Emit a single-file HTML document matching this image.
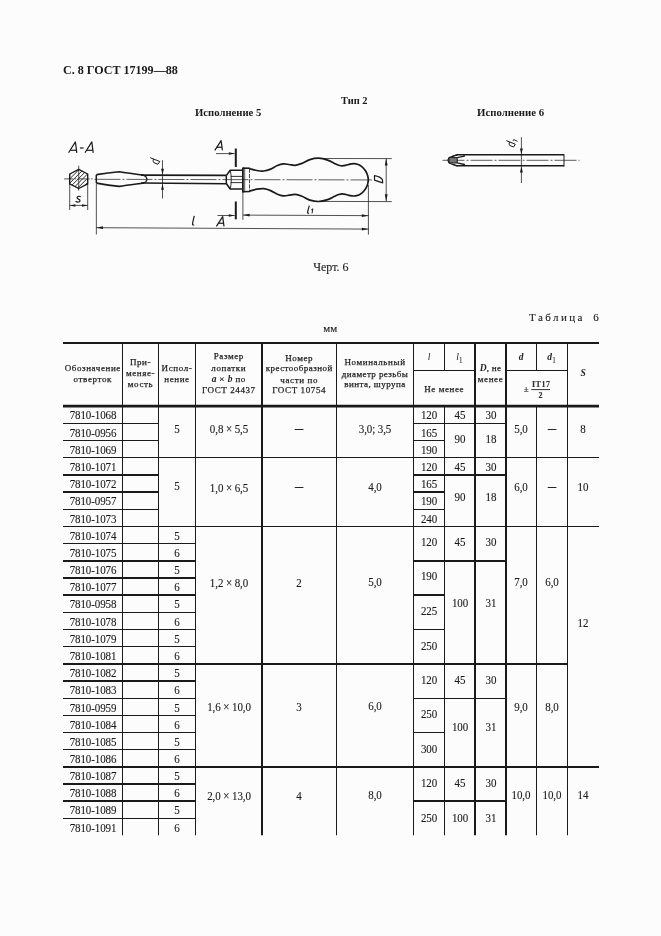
<!DOCTYPE html>
<html lang="ru"><head><meta charset="utf-8"><title>ГОСТ 17199-88 С. 8</title>
<style>
html,body{margin:0;padding:0;background:#fcfcfc;}
body{width:661px;height:936px;position:relative;overflow:hidden;font-family:"Liberation Serif",serif;color:#1a1a1a;}
.t{position:absolute;white-space:nowrap;text-align:center;width:120px;margin-left:-60px;}
.d{font-size:12.2px;line-height:14px;height:14px;margin-top:-6.4px;letter-spacing:-0.1px;transform:scaleX(0.9);-webkit-text-stroke:0.12px #1a1a1a;}
.h{font-size:9px;line-height:12px;height:12px;margin-top:-6px;letter-spacing:0.6px;color:#222;-webkit-text-stroke:0.25px #222;}
.h i{font-size:9.5px;letter-spacing:0;font-weight:bold;-webkit-text-stroke:0}
.h sub{font-size:8px;vertical-align:-2.5px;line-height:0;-webkit-text-stroke:0}
.b{position:absolute;white-space:nowrap;font-weight:bold;}
.r{position:absolute;white-space:nowrap;-webkit-text-stroke:0.12px #1a1a1a;}
svg{position:absolute;left:0;top:0;}
</style></head><body>
<div id="page" style="position:absolute;left:0;top:0;width:661px;height:936px;will-change:transform">

<div class="b" id="hdr" style="left:62.6px;top:61.7px;font-size:13.2px;line-height:16px;transform-origin:0 0;transform:scaleX(0.915)">С. 8 ГОСТ 17199—88</div>
<div class="b" id="tip" style="left:340.8px;top:93.7px;font-size:11.2px;line-height:13px;transform-origin:0 0;transform:scaleX(0.93)">Тип 2</div>
<div class="b" id="i5" style="left:194.6px;top:106.2px;font-size:11.2px;line-height:13px;transform-origin:0 0;transform:scaleX(0.955)">Исполнение 5</div>
<div class="b" id="i6" style="left:476.6px;top:106.2px;font-size:11.2px;line-height:13px;transform-origin:0 0;transform:scaleX(0.965)">Исполнение 6</div>
<div class="r" id="chert" style="left:313.2px;top:261.3px;font-size:12px;line-height:13px">Черт. 6</div>
<div class="r" id="tabl" style="left:529px;top:311px;font-size:11px;line-height:13px;letter-spacing:2.45px;word-spacing:3px">Таблица 6</div>
<div class="r" id="mm" style="left:323.2px;top:322.4px;font-size:11px;line-height:13px">мм</div>
<div class="t d" style="left:92.8px;top:414.8px">7810-1068</div>
<div class="t d" style="left:92.8px;top:432.0px">7810-0956</div>
<div class="t d" style="left:92.8px;top:449.0px">7810-1069</div>
<div class="t d" style="left:92.8px;top:466.2px">7810-1071</div>
<div class="t d" style="left:92.8px;top:483.5px">7810-1072</div>
<div class="t d" style="left:92.8px;top:500.8px">7810-0957</div>
<div class="t d" style="left:92.8px;top:518.0px">7810-1073</div>
<div class="t d" style="left:92.8px;top:535.0px">7810-1074</div>
<div class="t d" style="left:92.8px;top:552.2px">7810-1075</div>
<div class="t d" style="left:92.8px;top:569.5px">7810-1076</div>
<div class="t d" style="left:92.8px;top:586.5px">7810-1077</div>
<div class="t d" style="left:92.8px;top:603.8px">7810-0958</div>
<div class="t d" style="left:92.8px;top:621.0px">7810-1078</div>
<div class="t d" style="left:92.8px;top:638.0px">7810-1079</div>
<div class="t d" style="left:92.8px;top:655.2px">7810-1081</div>
<div class="t d" style="left:92.8px;top:672.5px">7810-1082</div>
<div class="t d" style="left:92.8px;top:689.8px">7810-1083</div>
<div class="t d" style="left:92.8px;top:707.0px">7810-0959</div>
<div class="t d" style="left:92.8px;top:724.0px">7810-1084</div>
<div class="t d" style="left:92.8px;top:741.0px">7810-1085</div>
<div class="t d" style="left:92.8px;top:758.2px">7810-1086</div>
<div class="t d" style="left:92.8px;top:775.5px">7810-1087</div>
<div class="t d" style="left:92.8px;top:792.5px">7810-1088</div>
<div class="t d" style="left:92.8px;top:809.8px">7810-1089</div>
<div class="t d" style="left:92.8px;top:826.9px">7810-1091</div>
<div class="t d" style="left:177.0px;top:428.1px">5</div>
<div class="t d" style="left:177.0px;top:485.7px">5</div>
<div class="t d" style="left:177.0px;top:535.0px">5</div>
<div class="t d" style="left:177.0px;top:552.2px">6</div>
<div class="t d" style="left:177.0px;top:569.5px">5</div>
<div class="t d" style="left:177.0px;top:586.5px">6</div>
<div class="t d" style="left:177.0px;top:603.8px">5</div>
<div class="t d" style="left:177.0px;top:621.0px">6</div>
<div class="t d" style="left:177.0px;top:638.0px">5</div>
<div class="t d" style="left:177.0px;top:655.2px">6</div>
<div class="t d" style="left:177.0px;top:672.5px">5</div>
<div class="t d" style="left:177.0px;top:689.8px">6</div>
<div class="t d" style="left:177.0px;top:707.0px">5</div>
<div class="t d" style="left:177.0px;top:724.0px">6</div>
<div class="t d" style="left:177.0px;top:741.0px">5</div>
<div class="t d" style="left:177.0px;top:758.2px">6</div>
<div class="t d" style="left:177.0px;top:775.5px">5</div>
<div class="t d" style="left:177.0px;top:792.5px">6</div>
<div class="t d" style="left:177.0px;top:809.8px">5</div>
<div class="t d" style="left:177.0px;top:826.9px">6</div>
<div class="t d" style="left:228.8px;top:428.7px">0,8 × 5,5</div>
<div class="t d" style="left:299.2px;top:428.8px"><span style="font-size:9px;position:relative;top:-2.3px;-webkit-text-stroke:0.5px #1a1a1a">—</span></div>
<div class="t d" style="left:375.0px;top:428.0px">3,0; 3,5</div>
<div class="t d" style="left:521.2px;top:428.1px">5,0</div>
<div class="t d" style="left:552.0px;top:428.7px"><span style="font-size:9px;position:relative;top:-2.3px;-webkit-text-stroke:0.5px #1a1a1a">—</span></div>
<div class="t d" style="left:228.8px;top:486.9px">1,0 × 6,5</div>
<div class="t d" style="left:299.2px;top:487.0px"><span style="font-size:9px;position:relative;top:-2.3px;-webkit-text-stroke:0.5px #1a1a1a">—</span></div>
<div class="t d" style="left:375.0px;top:486.2px">4,0</div>
<div class="t d" style="left:521.2px;top:486.3px">6,0</div>
<div class="t d" style="left:552.0px;top:486.9px"><span style="font-size:9px;position:relative;top:-2.3px;-webkit-text-stroke:0.5px #1a1a1a">—</span></div>
<div class="t d" style="left:228.8px;top:582.3px">1,2 × 8,0</div>
<div class="t d" style="left:299.2px;top:581.9px">2</div>
<div class="t d" style="left:375.0px;top:581.6px">5,0</div>
<div class="t d" style="left:521.2px;top:581.7px">7,0</div>
<div class="t d" style="left:552.0px;top:581.7px">6,0</div>
<div class="t d" style="left:228.8px;top:706.5px">1,6 × 10,0</div>
<div class="t d" style="left:299.2px;top:706.1px">3</div>
<div class="t d" style="left:375.0px;top:705.8px">6,0</div>
<div class="t d" style="left:521.2px;top:705.9px">9,0</div>
<div class="t d" style="left:552.0px;top:705.9px">8,0</div>
<div class="t d" style="left:228.8px;top:795.3px">2,0 × 13,0</div>
<div class="t d" style="left:299.2px;top:794.9px">4</div>
<div class="t d" style="left:375.0px;top:794.6px">8,0</div>
<div class="t d" style="left:521.2px;top:794.7px">10,0</div>
<div class="t d" style="left:552.0px;top:794.7px">10,0</div>
<div class="t d" style="left:583.2px;top:428.1px">8</div>
<div class="t d" style="left:583.2px;top:486.1px">10</div>
<div class="t d" style="left:583.2px;top:621.9px">12</div>
<div class="t d" style="left:583.2px;top:794.8px">14</div>
<div class="t d" style="left:429.0px;top:414.8px">120</div>
<div class="t d" style="left:429.0px;top:432.0px">165</div>
<div class="t d" style="left:429.0px;top:449.0px">190</div>
<div class="t d" style="left:429.0px;top:466.2px">120</div>
<div class="t d" style="left:429.0px;top:483.5px">165</div>
<div class="t d" style="left:429.0px;top:500.8px">190</div>
<div class="t d" style="left:429.0px;top:518.0px">240</div>
<div class="t d" style="left:429.0px;top:541.5px">120</div>
<div class="t d" style="left:429.0px;top:575.4px">190</div>
<div class="t d" style="left:429.0px;top:610.5px">225</div>
<div class="t d" style="left:429.0px;top:645.0px">250</div>
<div class="t d" style="left:429.0px;top:678.9px">120</div>
<div class="t d" style="left:429.0px;top:713.1px">250</div>
<div class="t d" style="left:429.0px;top:747.9px">300</div>
<div class="t d" style="left:429.0px;top:782.1px">120</div>
<div class="t d" style="left:429.0px;top:816.9px">250</div>
<div class="t d" style="left:459.8px;top:414.8px">45</div>
<div class="t d" style="left:490.5px;top:414.8px">30</div>
<div class="t d" style="left:459.8px;top:438.7px">90</div>
<div class="t d" style="left:490.5px;top:438.7px">18</div>
<div class="t d" style="left:459.8px;top:466.2px">45</div>
<div class="t d" style="left:490.5px;top:466.2px">30</div>
<div class="t d" style="left:459.8px;top:496.7px">90</div>
<div class="t d" style="left:490.5px;top:496.7px">18</div>
<div class="t d" style="left:459.8px;top:541.6px">45</div>
<div class="t d" style="left:490.5px;top:541.6px">30</div>
<div class="t d" style="left:459.8px;top:602.7px">100</div>
<div class="t d" style="left:490.5px;top:602.7px">31</div>
<div class="t d" style="left:459.8px;top:679.0px">45</div>
<div class="t d" style="left:490.5px;top:679.0px">30</div>
<div class="t d" style="left:459.8px;top:726.8px">100</div>
<div class="t d" style="left:490.5px;top:726.8px">31</div>
<div class="t d" style="left:459.8px;top:782.1px">45</div>
<div class="t d" style="left:490.5px;top:782.1px">30</div>
<div class="t d" style="left:459.8px;top:816.9px">100</div>
<div class="t d" style="left:490.5px;top:816.9px">31</div>
<div class="t h" style="left:92.8px;top:368.2px">Обозначение</div>
<div class="t h" style="left:92.8px;top:379.4px">отверток</div>
<div class="t h" style="left:140.5px;top:362.0px">При-</div>
<div class="t h" style="left:140.5px;top:373.2px">меняе-</div>
<div class="t h" style="left:140.5px;top:384.2px">мость</div>
<div class="t h" style="left:177.0px;top:368.2px">Испол-</div>
<div class="t h" style="left:177.0px;top:379.4px">нение</div>
<div class="t h" style="left:228.8px;top:356.2px">Размер</div>
<div class="t h" style="left:228.8px;top:367.5px">лопатки</div>
<div class="t h" style="left:228.8px;top:379.0px"><i>a</i> × <i>b</i> по</div>
<div class="t h" style="left:228.8px;top:389.6px">ГОСТ 24437</div>
<div class="t h" style="left:299.2px;top:357.5px">Номер</div>
<div class="t h" style="left:299.2px;top:368.4px;letter-spacing:0.45px">крестообразной</div>
<div class="t h" style="left:299.2px;top:379.5px">части по</div>
<div class="t h" style="left:299.2px;top:390.0px">ГОСТ 10754</div>
<div class="t h" style="left:375.0px;top:361.7px">Номинальный</div>
<div class="t h" style="left:375.0px;top:373.5px;letter-spacing:0.4px">диаметр резьбы</div>
<div class="t h" style="left:375.0px;top:384.2px;letter-spacing:0.45px">винта, шурупа</div>
<div class="t h" style="left:429.0px;top:357.3px"><i style="font-weight:normal">l</i></div>
<div class="t h" style="left:459.8px;top:357.3px"><i style="font-weight:normal">l</i><sub>1</sub></div>
<div class="t h" style="left:444.2px;top:388.7px">Не менее</div>
<div class="t h" style="left:490.5px;top:368.2px;letter-spacing:0.3px"><i>D</i>, не</div>
<div class="t h" style="left:490.5px;top:379.4px">менее</div>
<div class="t h" style="left:521.2px;top:357.3px"><i>d</i></div>
<div class="t h" style="left:552.0px;top:357.3px"><i>d</i><sub>1</sub></div>
<div class="t h" style="left:583.2px;top:373.0px"><i>S</i></div>
<div class="r" style="left:523.7px;top:383px;font-size:9px;line-height:12px;font-weight:bold;color:#333">±</div>
<div class="r" style="left:532px;top:379.2px;font-size:8px;line-height:11px;font-weight:bold;letter-spacing:0.5px;color:#333">IT17</div>
<div class="r" style="left:538.5px;top:389.6px;font-size:8px;line-height:11px;font-weight:bold;color:#333">2</div>
<svg width="661" height="936" viewBox="0 0 661 936">
<g stroke="#1a1a1a" fill="none" shape-rendering="auto">
<line x1="63.00" y1="343.00" x2="599.00" y2="343.00" stroke-width="2.20"/>
<line x1="63.00" y1="406.20" x2="599.00" y2="406.20" stroke-width="2.80"/>
<line x1="122.50" y1="343.00" x2="122.50" y2="835.30" stroke-width="1.00"/>
<line x1="158.50" y1="343.00" x2="158.50" y2="835.30" stroke-width="1.00"/>
<line x1="195.50" y1="343.00" x2="195.50" y2="835.30" stroke-width="1.00"/>
<line x1="262.00" y1="343.00" x2="262.00" y2="835.30" stroke-width="2.00"/>
<line x1="336.50" y1="343.00" x2="336.50" y2="835.30" stroke-width="1.00"/>
<line x1="413.50" y1="343.00" x2="413.50" y2="835.30" stroke-width="1.00"/>
<line x1="444.50" y1="343.00" x2="444.50" y2="370.50" stroke-width="1.00"/>
<line x1="444.50" y1="406.20" x2="444.50" y2="835.30" stroke-width="1.00"/>
<line x1="475.00" y1="343.00" x2="475.00" y2="835.30" stroke-width="2.00"/>
<line x1="506.00" y1="343.00" x2="506.00" y2="835.30" stroke-width="2.00"/>
<line x1="536.50" y1="343.00" x2="536.50" y2="370.50" stroke-width="1.00"/>
<line x1="536.50" y1="406.20" x2="536.50" y2="835.30" stroke-width="1.00"/>
<line x1="567.50" y1="343.00" x2="567.50" y2="835.30" stroke-width="1.00"/>
<line x1="413.50" y1="370.50" x2="475.00" y2="370.50" stroke-width="1.00"/>
<line x1="506.00" y1="370.50" x2="567.50" y2="370.50" stroke-width="1.00"/>
<line x1="63.00" y1="423.50" x2="158.50" y2="423.50" stroke-width="1.00"/>
<line x1="63.00" y1="440.50" x2="158.50" y2="440.50" stroke-width="1.00"/>
<line x1="63.00" y1="457.50" x2="599.00" y2="457.50" stroke-width="1.00"/>
<line x1="63.00" y1="475.00" x2="158.50" y2="475.00" stroke-width="2.00"/>
<line x1="63.00" y1="492.00" x2="158.50" y2="492.00" stroke-width="2.00"/>
<line x1="63.00" y1="509.50" x2="158.50" y2="509.50" stroke-width="1.00"/>
<line x1="63.00" y1="526.50" x2="599.00" y2="526.50" stroke-width="1.00"/>
<line x1="63.00" y1="543.50" x2="195.50" y2="543.50" stroke-width="1.00"/>
<line x1="63.00" y1="561.00" x2="195.50" y2="561.00" stroke-width="2.00"/>
<line x1="63.00" y1="578.00" x2="195.50" y2="578.00" stroke-width="2.00"/>
<line x1="63.00" y1="595.00" x2="195.50" y2="595.00" stroke-width="2.00"/>
<line x1="63.00" y1="612.50" x2="195.50" y2="612.50" stroke-width="1.00"/>
<line x1="63.00" y1="629.50" x2="195.50" y2="629.50" stroke-width="1.00"/>
<line x1="63.00" y1="646.50" x2="195.50" y2="646.50" stroke-width="1.00"/>
<line x1="63.00" y1="664.00" x2="567.50" y2="664.00" stroke-width="2.00"/>
<line x1="63.00" y1="681.00" x2="195.50" y2="681.00" stroke-width="2.00"/>
<line x1="63.00" y1="698.50" x2="195.50" y2="698.50" stroke-width="1.00"/>
<line x1="63.00" y1="715.50" x2="195.50" y2="715.50" stroke-width="1.00"/>
<line x1="63.00" y1="732.50" x2="195.50" y2="732.50" stroke-width="1.00"/>
<line x1="63.00" y1="749.50" x2="195.50" y2="749.50" stroke-width="1.00"/>
<line x1="63.00" y1="767.00" x2="599.00" y2="767.00" stroke-width="2.00"/>
<line x1="63.00" y1="784.00" x2="195.50" y2="784.00" stroke-width="2.00"/>
<line x1="63.00" y1="801.00" x2="195.50" y2="801.00" stroke-width="2.00"/>
<line x1="63.00" y1="818.50" x2="195.50" y2="818.50" stroke-width="1.00"/>
<line x1="413.50" y1="423.50" x2="444.50" y2="423.50" stroke-width="1.00"/>
<line x1="413.50" y1="440.50" x2="444.50" y2="440.50" stroke-width="1.00"/>
<line x1="413.50" y1="475.00" x2="444.50" y2="475.00" stroke-width="2.00"/>
<line x1="413.50" y1="492.00" x2="444.50" y2="492.00" stroke-width="2.00"/>
<line x1="413.50" y1="509.50" x2="444.50" y2="509.50" stroke-width="1.00"/>
<line x1="413.50" y1="561.00" x2="444.50" y2="561.00" stroke-width="2.00"/>
<line x1="413.50" y1="595.00" x2="444.50" y2="595.00" stroke-width="2.00"/>
<line x1="413.50" y1="629.50" x2="444.50" y2="629.50" stroke-width="1.00"/>
<line x1="413.50" y1="698.50" x2="444.50" y2="698.50" stroke-width="1.00"/>
<line x1="413.50" y1="732.50" x2="444.50" y2="732.50" stroke-width="1.00"/>
<line x1="413.50" y1="801.00" x2="444.50" y2="801.00" stroke-width="2.00"/>
<line x1="444.50" y1="423.50" x2="506.00" y2="423.50" stroke-width="1.00"/>
<line x1="444.50" y1="475.00" x2="506.00" y2="475.00" stroke-width="2.00"/>
<line x1="444.50" y1="561.00" x2="506.00" y2="561.00" stroke-width="2.00"/>
<line x1="444.50" y1="698.50" x2="506.00" y2="698.50" stroke-width="1.00"/>
<line x1="444.50" y1="801.00" x2="506.00" y2="801.00" stroke-width="2.00"/>
<line x1="531.3" y1="389.6" x2="550" y2="389.6" stroke-width="0.9"/>
</g>
<g stroke="#1a1a1a" fill="none" stroke-linecap="butt" stroke-linejoin="round">
<clipPath id="hc"><polygon points="78.7,169.4 87.7,174.0 87.7,183.9 78.7,188.5 69.7,183.9 69.7,174.0"/></clipPath>
<g clip-path="url(#hc)" stroke-width="0.9">
<line x1="30.8" y1="192" x2="56.8" y2="166"/>
<line x1="35.1" y1="192" x2="61.1" y2="166"/>
<line x1="39.4" y1="192" x2="65.4" y2="166"/>
<line x1="43.7" y1="192" x2="69.7" y2="166"/>
<line x1="48.0" y1="192" x2="74.0" y2="166"/>
<line x1="52.3" y1="192" x2="78.3" y2="166"/>
<line x1="56.6" y1="192" x2="82.6" y2="166"/>
<line x1="60.9" y1="192" x2="86.9" y2="166"/>
<line x1="65.2" y1="192" x2="91.2" y2="166"/>
<line x1="69.5" y1="192" x2="95.5" y2="166"/>
<line x1="73.8" y1="192" x2="99.8" y2="166"/>
<line x1="78.1" y1="192" x2="104.1" y2="166"/>
<line x1="82.4" y1="192" x2="108.4" y2="166"/>
<line x1="86.7" y1="192" x2="112.7" y2="166"/>
</g>
<polygon points="78.7,169.4 87.7,174.0 87.7,183.9 78.7,188.5 69.7,183.9 69.7,174.0" stroke-width="1.4" fill="none"/>
<line x1="64.20" y1="178.90" x2="92.60" y2="178.90" stroke-width="0.75" stroke-dasharray="9 1.5 1.5 1.5"/>
<line x1="78.70" y1="165.70" x2="78.70" y2="190.60" stroke-width="0.75" />
<line x1="69.70" y1="184.00" x2="69.70" y2="210.00" stroke-width="0.75" />
<line x1="87.70" y1="184.00" x2="87.70" y2="210.00" stroke-width="0.75" />
<line x1="69.70" y1="205.40" x2="87.70" y2="205.40" stroke-width="0.75" />
<path d="M69.90 205.40L75.40 204.15L75.40 206.65Z" fill="#1a1a1a" stroke="none"/>
<path d="M87.50 205.40L82.00 206.65L82.00 204.15Z" fill="#1a1a1a" stroke="none"/>
<path d="M80.8 196.9C79.6 195.8 77.0 196.1 77.0 197.7C77.0 199.3 80.3 199.0 80.0 200.8C79.7 202.3 77 202.4 75.6 201.3" stroke-width="1.20" fill="none" />
<path d="M68.60 152.80L75.40 141.90L76.80 152.80" stroke-width="1.20" fill="none" />
<path d="M70.56 150.29L76.48 150.29" stroke-width="1.20" fill="none" />
<path d="M85.00 152.80L91.80 141.90L93.20 152.80" stroke-width="1.20" fill="none" />
<path d="M86.96 150.29L92.88 150.29" stroke-width="1.20" fill="none" />
<line x1="80.00" y1="148.00" x2="83.60" y2="148.00" stroke-width="1.20" />
<path d="M96.7 174.6L96.3 175.6 L96.3 182.1 L96.7 183.1" stroke-width="1.50" fill="none" />
<path d="M96.5 174.6C104 173.4 112 172.4 119.2 171.8C128 172.9 136 174.2 144.0 175.3" stroke-width="1.60" fill="none" />
<path d="M96.5 183.1C104 184.4 112 185.6 119.2 186.4C128 185.3 136 184.1 144.0 183.0" stroke-width="1.60" fill="none" />
<path d="M143.6 175.4C148.0 177.0 148.0 181.4 143.6 183.0" stroke-width="1.20" fill="none" />
<line x1="141.00" y1="175.10" x2="226.30" y2="175.40" stroke-width="1.60" />
<line x1="141.00" y1="182.95" x2="226.30" y2="183.70" stroke-width="1.60" />
<line x1="94.50" y1="179.30" x2="372.00" y2="179.95" stroke-width="0.70" stroke-dasharray="26 2 2 2"/>
<line x1="162.50" y1="160.30" x2="162.50" y2="198.50" stroke-width="0.75" />
<path d="M162.50 174.60L161.05 168.80L163.95 168.80Z" fill="#1a1a1a" stroke="none"/>
<path d="M162.50 184.00L163.95 189.80L161.05 189.80Z" fill="#1a1a1a" stroke="none"/>
<path d="M150.2 157.7L159.8 161.5L157.9 164.3L153.8 162.6C153.0 161.6 153.0 160.4 153.5 159.1" stroke-width="1.00" fill="none" />
<path d="M226.3 175.4L226.3 183.7" stroke-width="1.50" fill="none" />
<path d="M226.3 175.6L230.2 170.3L242.7 170.3" stroke-width="1.60" fill="none" />
<path d="M226.3 183.5L230.2 189.0L242.7 189.0" stroke-width="1.60" fill="none" />
<path d="M230.2 170.3C231.6 175 231.6 184.4 230.2 189.0" stroke-width="0.90" fill="none" />
<line x1="230.80" y1="176.40" x2="242.70" y2="176.40" stroke-width="0.90" />
<line x1="230.80" y1="182.60" x2="242.70" y2="182.60" stroke-width="0.90" />
<path d="M242.9 168.1L250.2 168.3M242.9 191.8L250.2 191.5" stroke-width="1.60" fill="none" />
<line x1="242.90" y1="167.40" x2="242.90" y2="192.40" stroke-width="1.80" />
<line x1="244.70" y1="168.40" x2="244.70" y2="191.40" stroke-width="0.70" />
<line x1="249.50" y1="168.80" x2="249.50" y2="191.00" stroke-width="0.80" stroke-dasharray="4 1.2"/>
<path d="M249.90 168.70C251.05 169.00 254.50 170.12 256.80 170.50C259.10 170.88 261.40 171.23 263.70 171.00C266.00 170.77 268.32 170.02 270.60 169.10C272.88 168.18 275.28 166.37 277.40 165.50C279.52 164.63 281.33 164.07 283.30 163.90C285.27 163.73 287.23 164.27 289.20 164.50C291.17 164.73 292.97 165.48 295.10 165.30C297.23 165.12 299.53 164.35 302.00 163.40C304.47 162.45 307.12 160.47 309.90 159.60C312.68 158.73 315.75 158.12 318.70 158.20C321.65 158.28 324.97 159.23 327.60 160.10C330.23 160.97 332.63 162.55 334.50 163.40C336.37 164.25 337.50 164.80 338.80 165.20C340.10 165.60 341.10 165.80 342.30 165.80C343.50 165.80 344.72 165.48 346.00 165.20C347.28 164.92 348.67 164.35 350.00 164.10C351.33 163.85 352.75 163.67 354.00 163.70C355.25 163.73 356.47 164.00 357.50 164.30C358.53 164.60 359.35 165.00 360.20 165.50C361.05 166.00 361.85 166.60 362.60 167.30C363.35 168.00 364.05 168.82 364.70 169.70C365.35 170.58 366.00 171.58 366.50 172.60C367.00 173.62 367.40 174.59 367.70 175.80C368.00 177.01 368.30 178.50 368.30 179.85C368.30 181.20 368.00 182.69 367.70 183.90C367.40 185.11 367.00 186.08 366.50 187.10C366.00 188.12 365.35 189.12 364.70 190.00C364.05 190.88 363.35 191.70 362.60 192.40C361.85 193.10 361.05 193.70 360.20 194.20C359.35 194.70 358.53 195.10 357.50 195.40C356.47 195.70 355.25 195.97 354.00 196.00C352.75 196.03 351.33 195.85 350.00 195.60C348.67 195.35 347.28 194.78 346.00 194.50C344.72 194.22 343.50 193.90 342.30 193.90C341.10 193.90 340.10 194.10 338.80 194.50C337.50 194.90 336.37 195.45 334.50 196.30C332.63 197.15 330.23 198.73 327.60 199.60C324.97 200.47 321.65 201.42 318.70 201.50C315.75 201.58 312.68 200.97 309.90 200.10C307.12 199.23 304.47 197.25 302.00 196.30C299.53 195.35 297.23 194.58 295.10 194.40C292.97 194.22 291.17 194.97 289.20 195.20C287.23 195.43 285.27 195.97 283.30 195.80C281.33 195.63 279.52 195.07 277.40 194.20C275.28 193.33 272.88 191.52 270.60 190.60C268.32 189.68 266.00 188.93 263.70 188.70C261.40 188.47 259.10 188.82 256.80 189.20C254.50 189.58 251.05 190.70 249.90 191.00" stroke-width="1.70" fill="none" />
<line x1="235.80" y1="148.50" x2="235.80" y2="167.00" stroke-width="2.00" />
<line x1="235.80" y1="201.50" x2="235.80" y2="219.30" stroke-width="2.00" />
<line x1="216.00" y1="153.60" x2="234.60" y2="153.60" stroke-width="0.75" />
<path d="M234.80 153.60L228.80 154.85L228.80 152.35Z" fill="#1a1a1a" stroke="none"/>
<line x1="217.50" y1="215.50" x2="234.60" y2="215.50" stroke-width="0.75" />
<path d="M234.80 215.50L228.80 216.75L228.80 214.25Z" fill="#1a1a1a" stroke="none"/>
<path d="M214.80 150.40L221.10 140.60L222.40 150.40" stroke-width="1.20" fill="none" />
<path d="M216.82 147.26L221.98 147.26" stroke-width="1.20" fill="none" />
<path d="M216.40 226.40L222.70 216.60L224.00 226.40" stroke-width="1.20" fill="none" />
<path d="M218.42 223.26L223.58 223.26" stroke-width="1.20" fill="none" />
<line x1="96.35" y1="183.50" x2="96.35" y2="234.50" stroke-width="0.75" />
<line x1="242.90" y1="192.00" x2="242.90" y2="219.80" stroke-width="0.75" />
<line x1="368.40" y1="185.00" x2="368.40" y2="234.70" stroke-width="0.75" />
<line x1="243.00" y1="215.10" x2="368.50" y2="215.65" stroke-width="0.75" />
<path d="M243.10 215.10L249.60 213.75L249.60 216.45Z" fill="#1a1a1a" stroke="none"/>
<path d="M368.30 215.65L361.80 217.00L361.80 214.30Z" fill="#1a1a1a" stroke="none"/>
<line x1="96.30" y1="227.70" x2="368.50" y2="229.10" stroke-width="0.75" />
<path d="M96.50 227.70L103.00 226.35L103.00 229.05Z" fill="#1a1a1a" stroke="none"/>
<path d="M368.30 229.10L361.80 230.45L361.80 227.75Z" fill="#1a1a1a" stroke="none"/>
<path d="M194.3 215.8C193.6 218.6 192.8 221.6 192.5 224.0C192.4 225.0 193.2 225.3 194.2 224.7" stroke-width="1.20" fill="none" />
<path d="M309.3 205.6C308.6 208.0 307.9 210.4 307.6 212.3C307.5 213.2 308.2 213.5 309.1 213.0" stroke-width="1.20" fill="none" />
<path d="M311.2 210.0L312.9 208.8L312.0 213.4" stroke-width="1.00" fill="none" />
<line x1="319.00" y1="158.50" x2="391.80" y2="158.60" stroke-width="0.75" />
<line x1="319.00" y1="201.40" x2="391.80" y2="201.60" stroke-width="0.75" />
<line x1="386.20" y1="158.60" x2="386.20" y2="201.20" stroke-width="0.75" />
<path d="M386.20 158.60L387.60 165.60L384.80 165.60Z" fill="#1a1a1a" stroke="none"/>
<path d="M386.20 201.20L384.80 194.20L387.60 194.20Z" fill="#1a1a1a" stroke="none"/>
<path d="M374.5 175.7L374.5 180.1L382.7 182.9L382.4 179.6C381 177.6 378 176.3 374.5 175.7Z" stroke-width="1.20" fill="none" />
<line x1="456.30" y1="154.70" x2="564.00" y2="154.70" stroke-width="1.50" />
<line x1="456.30" y1="165.80" x2="564.00" y2="165.80" stroke-width="1.50" />
<line x1="564.00" y1="154.20" x2="564.00" y2="166.50" stroke-width="1.00" />
<line x1="442.50" y1="160.30" x2="579.50" y2="160.30" stroke-width="0.70" stroke-dasharray="22 2 2 2"/>
<path d="M447.8 160.30L449.2 157.6L456.6 154.7M447.8 160.30L449.2 163.0L456.6 166.0" stroke-width="1.20" fill="none" />
<rect x="449" y="157.6" width="8.2" height="5.4" fill="#777" stroke-width="1.0"/>
<path d="M457.2 157.7L464.4 156.1L463.8 155.1M457.2 162.9L464.4 164.5L463.8 165.7" stroke-width="1.30" fill="none" />
<path d="M452.4 156.3L457.6 154.9M452.4 164.3L457.6 165.9" stroke-width="1.20" fill="none" />
<line x1="521.40" y1="137.20" x2="521.40" y2="183.00" stroke-width="0.75" />
<path d="M521.40 154.20L519.95 148.40L522.85 148.40Z" fill="#1a1a1a" stroke="none"/>
<path d="M521.40 166.60L522.85 172.40L519.95 172.40Z" fill="#1a1a1a" stroke="none"/>
<path d="M506.3 140.6L515.3 144.2L513.6 147.0L509.8 145.5C509.0 144.6 509.0 143.4 509.5 142.0" stroke-width="1.00" fill="none" />
<path d="M513.0 140.9L513.7 139.5L517.6 141.4" stroke-width="0.90" fill="none" />
</g>
</svg>
</div>
</body></html>
